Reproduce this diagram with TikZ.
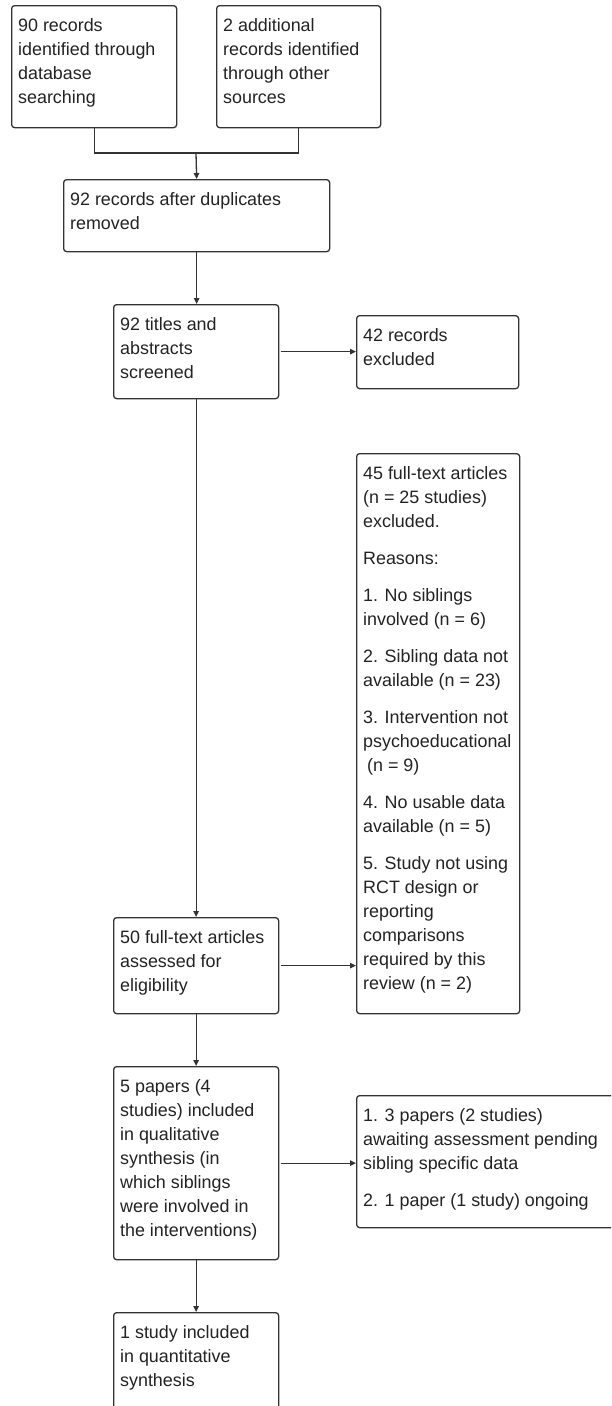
\documentclass[tikz,border=0pt]{standalone}
\usepackage{fontspec}
\setmainfont{Liberation Sans}
\usetikzlibrary{arrows.meta}
\definecolor{ink}{HTML}{222222}
\definecolor{edge}{HTML}{333333}
\newcommand{\bt}[3]{\parbox[c][#2pt][t]{#1pt}{\raggedright\rule{0pt}{26pt}#3}}
\tikzset{
  box/.style={draw=edge, line width=1.3pt, rounded corners=3pt, anchor=north west,
    inner xsep=6.5pt, inner ysep=0pt, text=ink, align=left,
    font=\fontsize{17.9pt}{24pt}\selectfont},
  link/.style={draw=edge, line width=1.3pt},
  arr/.style={link, -{Triangle[length=6pt,width=5.5pt]}}
}
\begin{document}
\begin{tikzpicture}[x=1pt,y=-1pt]
\useasboundingbox (0,0) rectangle (611,1406);
\clip (0,0) rectangle (611,1406);
\node[box] (a) at (11,5) {\bt{152}{122}{90 records\\identified through\\database\\searching}};
\node[box] (b) at (216,5) {\bt{151}{122}{2 additional\\records identified\\through other\\sources}};
\node[box] (c) at (63,179) {\bt{253}{72}{92 records after duplicates\\removed}};
\node[box] (d) at (113,304) {\bt{152}{94}{92 titles and\\abstracts\\screened}};
\node[box] (e) at (356,315) {\bt{149}{73}{42 records\\excluded}};
\node[box] (f) at (356,453) {\bt{150}{560}{45 full-text articles\\(n = 25 studies)\\excluded.\\[13pt]Reasons:\\[13pt]1. No siblings\\involved (n = 6)\\[13pt]2. Sibling data not\\available (n = 23)\\[13pt]3. Intervention not\\psychoeducational\\\hspace*{4pt}(n = 9)\\[13pt]4. No usable data\\available (n = 5)\\[13pt]5. Study not using\\RCT design or\\reporting\\comparisons\\required by this\\review (n = 2)}};
\node[box] (g) at (113,917) {\bt{152}{96}{50 full-text articles\\assessed for\\eligibility}};
\node[box] (h) at (113,1066) {\bt{152}{193}{5 papers (4\\studies) included\\in qualitative\\synthesis (in\\which siblings\\were involved in\\the interventions)}};
\node[box] (i) at (356,1095) {\bt{245}{132}{1. 3 papers (2 studies)\\awaiting assessment pending\\sibling specific data\\[13pt]2. 1 paper (1 study) ongoing}};
\node[box] (j) at (113,1312) {\bt{152}{97}{1 study included\\in quantitative\\synthesis}};
\coordinate (m) at (196,153);
\draw[link] (a.south) -- (a.south |- m) -| (b.south);
\draw[arr] (m) -- (c.north);
\draw[arr] (c.south) -- (c.south |- d.north);
\draw[arr] ([xshift=2pt]d.east) -- (e.west |- d.east);
\draw[arr] (d.south) -- (g.north);
\draw[arr] ([xshift=2pt]g.east) -- (f.west |- g.east);
\draw[arr] (g.south) -- (h.north);
\draw[arr] ([xshift=2pt]h.east) -- (i.west |- h.east);
\draw[arr] (h.south) -- (j.north);
\end{tikzpicture}
\end{document}
